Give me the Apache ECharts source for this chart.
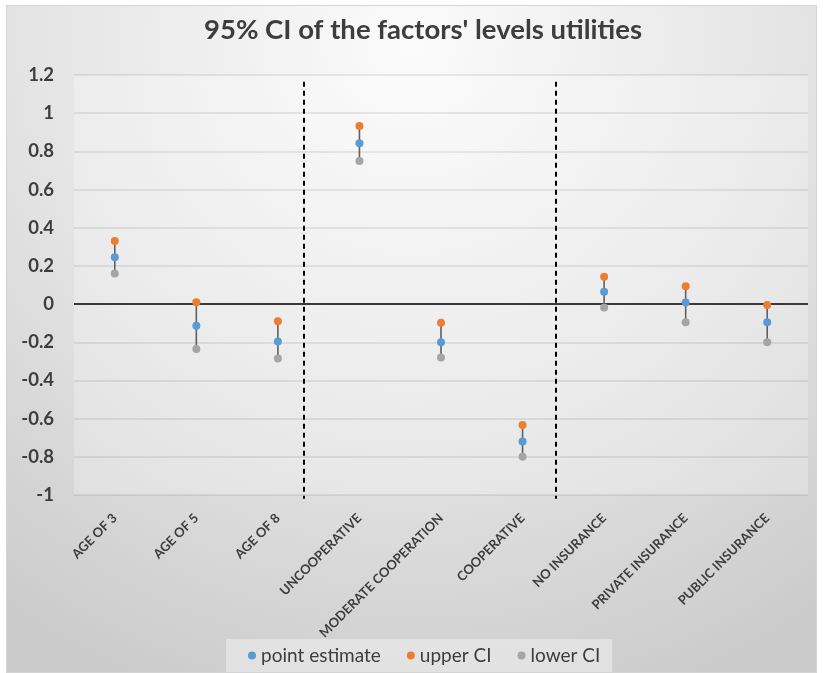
<!DOCTYPE html>
<html>
<head>
<meta charset="utf-8">
<script src="https://cdn.jsdelivr.net/npm/echarts@6/dist/echarts.min.js"></script>
<style>
  html, body { margin: 0; padding: 0; background: #ffffff; width: 823px; height: 673px; overflow: hidden; }
  #chart { position: absolute; left: 6px; top: 5px; width: 811px; height: 668px; border: 1px solid #d4d4d4; box-sizing: border-box; }
</style>
</head>
<body>
<div id="chart"></div>
<script>
const titleText = "95% CI of the factors' levels utilities";
const categories = ['AGE OF 3', 'AGE OF 5', 'AGE OF 8', 'UNCOOPERATIVE', 'MODERATE COOPERATION', 'COOPERATIVE', 'NO INSURANCE', 'PRIVATE INSURANCE', 'PUBLIC INSURANCE'];
const pointEstimate = [0.245, -0.114, -0.196, 0.843, -0.2, -0.72, 0.065, 0.008, -0.095];
const upperCI = [0.33, 0.01, -0.09, 0.933, -0.098, -0.633, 0.143, 0.093, -0.005];
const lowerCI = [0.16, -0.235, -0.285, 0.75, -0.28, -0.80, -0.018, -0.095, -0.2];
const yTicks = [-1, -0.8, -0.6, -0.4, -0.2, 0, 0.2, 0.4, 0.6, 0.8, 1, 1.2];
const separatorX = [2.32, 5.41];
const separatorY = [1.165, -1.02];

const FONT = 'Lato';
const TXT = '#3d3d3d';

const chart = echarts.init(document.getElementById('chart'));

const separatorSeries = separatorX.map(x => ({
  type: 'line',
  xAxisIndex: 1,
  yAxisIndex: 0,
  data: separatorY.map(y => [x, y]),
  symbol: 'none',
  clip: false,
  silent: true,
  lineStyle: { color: '#000000', width: 2, type: [5, 4] },
  z: 1
}));

const option = {
  animation: false,
  backgroundColor: {
    type: 'radial', x: 0.5, y: 0.05, r: 1.05,
    colorStops: [
      { offset: 0, color: '#fbfbfb' },
      { offset: 0.55, color: '#e4e4e4' },
      { offset: 1, color: '#cbcbcb' }
    ]
  },
  title: {
    text: titleText,
    left: 192,
    top: 5,
    textStyle: { fontFamily: FONT, fontSize: 27.5, fontWeight: 'bold', color: TXT }
  },
  legend: {
    data: ['point estimate', 'upper CI', 'lower CI'],
    left: 219,
    top: 633,
    icon: 'circle',
    itemWidth: 8,
    itemHeight: 8,
    itemGap: 26,
    padding: [7, 12, 7, 22],
    backgroundColor: 'rgba(240,240,240,0.55)',
    textStyle: { fontFamily: FONT, fontSize: 19, color: TXT }
  },
  grid: {
    left: 67, right: 8, top: 69, bottom: 177,
    show: true,
    backgroundColor: 'rgba(255,255,255,0.25)',
    borderWidth: 0
  },
  xAxis: [
    {
      type: 'category',
      data: categories,
      position: 'bottom',
      axisLine: { show: false, onZero: false },
      axisTick: { show: false },
      splitLine: { show: false },
      axisLabel: {
        rotate: 45,
        margin: 21,
        interval: 0,
        fontFamily: FONT,
        fontSize: 13,
        fontWeight: 'bold',
        color: TXT
      }
    },
    {
      type: 'value',
      min: -0.5,
      max: 8.5,
      show: false
    }
  ],
  yAxis: {
    type: 'value',
    min: yTicks[0],
    max: yTicks[yTicks.length - 1],
    interval: 0.2,
    axisLine: { show: false },
    axisTick: { show: false },
    axisLabel: {
      margin: 20,
      fontFamily: FONT,
      fontSize: 18.5,
      fontWeight: 'bold',
      color: TXT,
      formatter: v => String(+v.toFixed(1))
    },
    splitLine: { lineStyle: { color: 'rgba(0,0,0,0.1)', width: 1.5 } }
  },
  series: [
    ...separatorSeries,
    {
      type: 'custom',
      name: 'errorbars',
      xAxisIndex: 0,
      yAxisIndex: 0,
      data: categories.map((c, i) => [i, upperCI[i], lowerCI[i]]),
      renderItem: function (params, api) {
        const p1 = api.coord([api.value(0), api.value(1)]);
        const p2 = api.coord([api.value(0), api.value(2)]);
        return {
          type: 'line',
          shape: { x1: p1[0], y1: p1[1], x2: p2[0], y2: p2[1] },
          style: { stroke: '#5f5f5f', lineWidth: 1.6 }
        };
      },
      silent: true,
      z: 2
    },
    {
      type: 'line',
      name: 'zero',
      data: categories.map(() => 0),
      symbol: 'none',
      silent: true,
      lineStyle: { width: 0 },
      markLine: {
        silent: true,
        symbol: 'none',
        label: { show: false },
        lineStyle: { color: '#3a3a3a', width: 2, type: 'solid' },
        data: [{ yAxis: 0 }]
      },
      z: 1
    },
    {
      type: 'scatter',
      name: 'point estimate',
      data: pointEstimate,
      symbolSize: 8,
      itemStyle: { color: '#5b9bd5', opacity: 1 },
      z: 5
    },
    {
      type: 'scatter',
      name: 'upper CI',
      data: upperCI,
      symbolSize: 8,
      itemStyle: { color: '#ed7d31', opacity: 1 },
      z: 5
    },
    {
      type: 'scatter',
      name: 'lower CI',
      data: lowerCI,
      symbolSize: 8,
      itemStyle: { color: '#a5a5a5', opacity: 1 },
      z: 5
    }
  ]
};

chart.setOption(option);
</script>
</body>
</html>
